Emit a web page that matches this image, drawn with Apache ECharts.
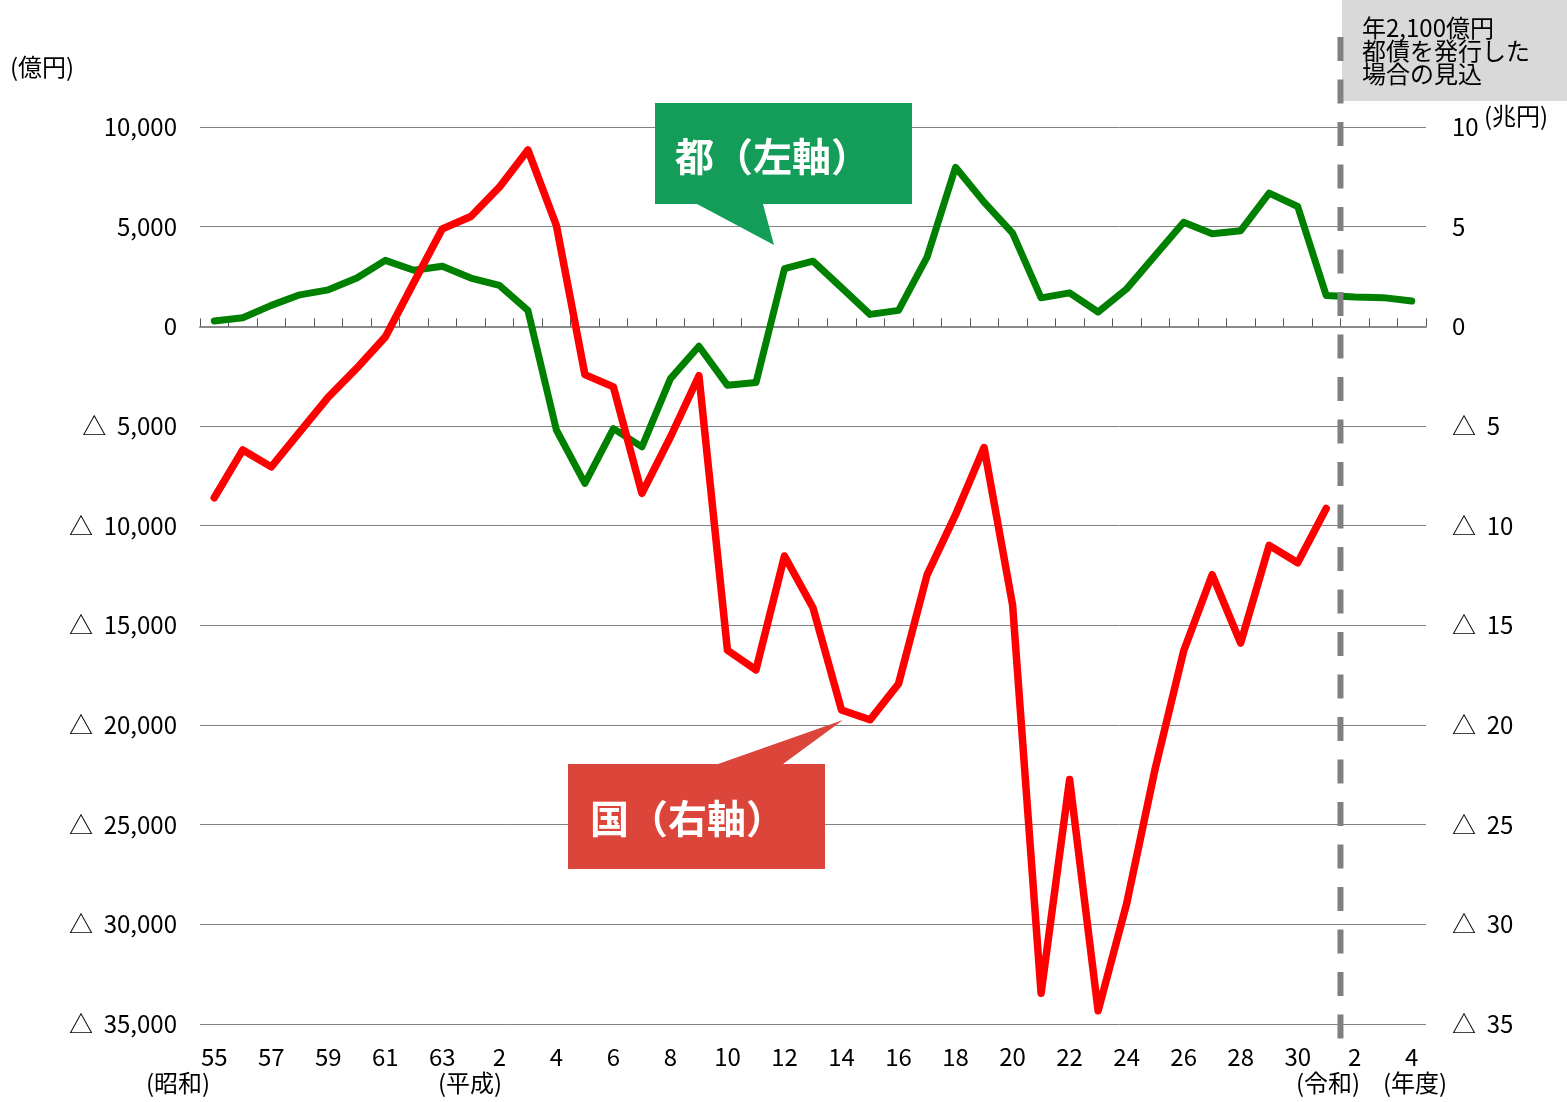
<!DOCTYPE html>
<html>
<head>
<meta charset="utf-8">
<script src="https://cdn.jsdelivr.net/npm/echarts@6/dist/echarts.min.js"></script>
<style>
html,body{margin:0;padding:0;background:#fff;}
#chart{width:1567px;height:1102px;}
</style>
</head>
<body>
<div id="chart"></div>
<script>
// Fiscal years 1980 (昭和55) .. 2022 (令和4)
const years = ['1980','1981','1982','1983','1984','1985','1986','1987','1988','1989','1990','1991','1992','1993','1994','1995','1996','1997','1998','1999','2000','2001','2002','2003','2004','2005','2006','2007','2008','2009','2010','2011','2012','2013','2014','2015','2016','2017','2018','2019','2020','2021','2022'];
const yearLabels = ['55','56','57','58','59','60','61','62','63','元','2','3','4','5','6','7','8','9','10','11','12','13','14','15','16','17','18','19','20','21','22','23','24','25','26','27','28','29','30','元','2','3','4'];

// 都 (左軸, 億円)
const tokyo = [270,430,1050,1580,1830,2420,3310,2810,3010,2420,2050,800,-5200,-7880,-5130,-6050,-2620,-1000,-2960,-2820,2890,3270,1940,600,800,3470,7980,6230,4680,1430,1680,720,1880,3550,5220,4640,4800,6680,6010,1550,1470,1440,1270];

// 国 (右軸, 兆円)
const nation = [-8.6,-6.2,-7.05,-5.3,-3.55,-2.1,-0.53,2.2,4.89,5.51,6.98,8.85,5.06,-2.42,-3.04,-8.38,-5.55,-2.48,-16.25,-17.23,-11.52,-14.12,-19.25,-19.74,-17.93,-12.47,-9.45,-6.08,-13.97,-33.46,-22.73,-34.34,-28.97,-22.2,-16.29,-12.46,-15.89,-10.99,-11.86,-9.14,null,null,null];

const leftTicks = {min:-35000, max:10000, interval:5000};
const rightTicks = {min:-35, max:10, interval:5};

const FONT = "'Noto Sans CJK JP', 'Noto Sans', sans-serif";

function fmtTri(v){
  if (v === 0) return '0';
  const a = Math.abs(v).toLocaleString('en-US');
  return v < 0 ? '△  ' + a : a;
}

const chart = echarts.init(document.getElementById('chart'), null, {renderer:'canvas'});

const option = {
  animation: false,
  backgroundColor: '#ffffff',
  textStyle: {fontFamily: FONT},
  grid: {left: 200, right: 141, top: 127, bottom: 78, containLabel: false},
  xAxis: [
    {
      type: 'category', data: years, boundaryGap: true,
      axisLine: {show: true, onZero: true, onZeroAxisIndex: 0, lineStyle: {color: '#8a8a8a', width: 2}},
      axisTick: {show: true, inside: true, length: 8, interval: 0, lineStyle: {color: '#555', width: 1}},
      axisLabel: {show: false},
      splitLine: {show: false}
    },
    {
      type: 'category', data: years, boundaryGap: true, position: 'bottom',
      axisLine: {show: false, onZero: false},
      axisTick: {show: false},
      axisLabel: {show: true, interval: 1, margin: 21, fontSize: 24, color: '#000', fontFamily: FONT,
        formatter: (v, i) => yearLabels[i]},
      splitLine: {show: false}
    }
  ],
  yAxis: [
    {
      type: 'value', position: 'left', min: leftTicks.min, max: leftTicks.max, interval: leftTicks.interval,
      axisLine: {show: false}, axisTick: {show: false},
      axisLabel: {margin: 23, fontSize: 24, color: '#000', fontFamily: FONT, formatter: fmtTri},
      splitLine: {show: true, lineStyle: {color: '#808080', width: 1}}
    },
    {
      type: 'value', position: 'right', min: rightTicks.min, max: rightTicks.max, interval: rightTicks.interval,
      axisLine: {show: false}, axisTick: {show: false},
      axisLabel: {margin: 26, fontSize: 24, color: '#000', fontFamily: FONT, formatter: fmtTri},
      splitLine: {show: false}
    }
  ],
  series: [
    {
      name: '都', type: 'line', xAxisIndex: 0, yAxisIndex: 0, data: tokyo,
      symbol: 'none', smooth: false, z: 3,
      lineStyle: {color: '#008000', width: 7, cap: 'round', join: 'round'}
    },
    {
      name: '国', type: 'line', xAxisIndex: 0, yAxisIndex: 1, data: nation,
      symbol: 'none', smooth: false, z: 4, connectNulls: false,
      lineStyle: {color: '#ff0000', width: 7.5, cap: 'round', join: 'round'}
    }
  ]
};
chart.setOption(option);

// annotation positions
const xa = chart.convertToPixel({xAxisIndex: 0}, years[39]);
const xb = chart.convertToPixel({xAxisIndex: 0}, years[40]);
const xDash = (xa + xb) / 2;

chart.setOption({
  graphic: [
    {type: 'rect', z: 10, shape: {x: 1342, y: 0, width: 225, height: 101}, style: {fill: '#d9d9d9'}},
    {type: 'text', z: 11, left: 1362, top: 16, style: {text: '年2,100億円\n都債を発行した\n場合の見込', fill: '#000', font: '24px ' + FONT, lineHeight: 23}},
    {type: 'line', z: 12, shape: {x1: xDash, y1: 37, x2: xDash, y2: 1044},
      style: {stroke: '#808080', lineWidth: 6, lineDash: [24, 18.5]}},
    {type: 'text', z: 11, left: 10, top: 55, style: {text: '(億円)', fill: '#000', font: '24px ' + FONT}},
    {type: 'text', z: 11, left: 1484, top: 104, style: {text: '(兆円)', fill: '#000', font: '24px ' + FONT}},
    {type: 'text', z: 11, left: 146, top: 1071, style: {text: '(昭和)', fill: '#000', font: '24px ' + FONT}},
    {type: 'text', z: 11, left: 438, top: 1071, style: {text: '(平成)', fill: '#000', font: '24px ' + FONT}},
    {type: 'text', z: 11, left: 1296, top: 1071, style: {text: '(令和)', fill: '#000', font: '24px ' + FONT}},
    {type: 'text', z: 11, left: 1383, top: 1071, style: {text: '(年度)', fill: '#000', font: '24px ' + FONT}},
    {type: 'polygon', z: 10, shape: {points: [[655,103],[912,103],[912,204],[763,204],[774,245],[697,204],[655,204]]},
      style: {fill: '#149d58'}},
    {type: 'text', z: 11, left: 675, top: 137, style: {text: '都（左軸）', fill: '#fff', font: 'bold 39px ' + FONT}},
    {type: 'polygon', z: 10, shape: {points: [[568,764],[718,764],[843,720],[783,764],[825,764],[825,869],[568,869]]},
      style: {fill: '#dc4539'}},
    {type: 'text', z: 11, left: 590, top: 799, style: {text: '国（右軸）', fill: '#fff', font: 'bold 39px ' + FONT}}
  ]
});
</script>
</body>
</html>
